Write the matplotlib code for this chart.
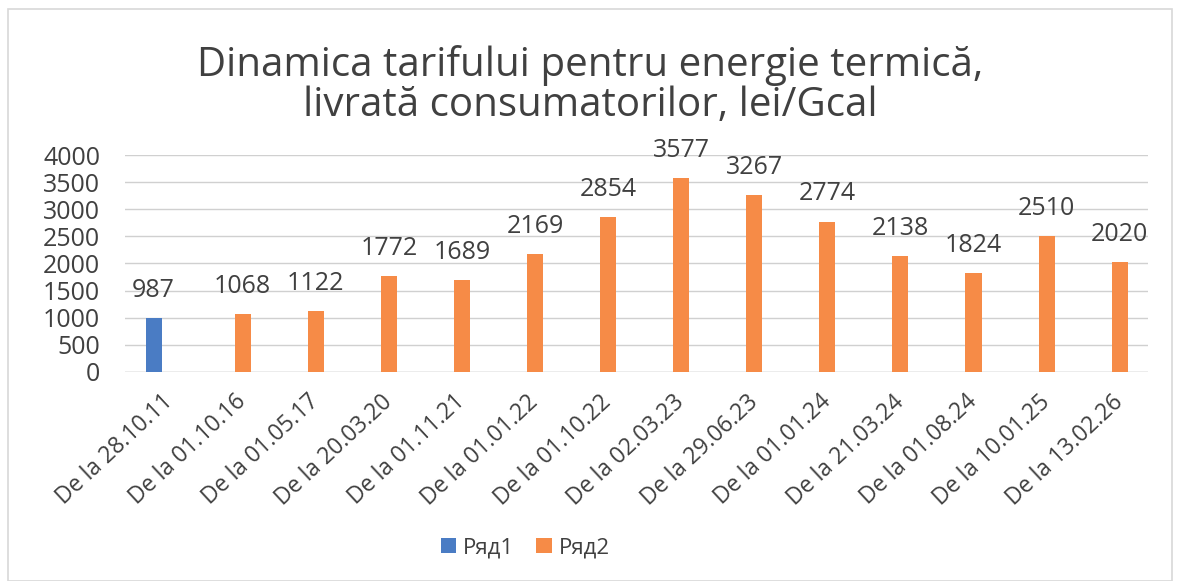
import numpy as np
import matplotlib.pyplot as plt
from matplotlib.patches import Rectangle

dates = ["28.10.11", "01.10.16", "01.05.17", "20.03.20", "01.11.21", "01.01.22",
         "01.10.22", "02.03.23", "29.06.23", "01.01.24", "21.03.24", "01.08.24",
         "10.01.25", "13.02.26"]
categories = ["De la " + d for d in dates]
ryad1 = [987] + [np.nan] * 13
ryad2 = [np.nan, 1068, 1122, 1772, 1689, 2169, 2854, 3577, 3267, 2774, 2138, 1824, 2510, 2020]
yticks = [0, 500, 1000, 1500, 2000, 2500, 3000, 3500, 4000]

FONT = ["Open Sans", "DejaVu Sans"]
TXT = "#404040"
plt.rcParams["font.family"] = FONT

fig = plt.figure(figsize=(11.8, 5.81), dpi=100)
ax = fig.add_axes([0.106, 0.36, 0.867, 0.373])

x = np.arange(len(categories))
w = 0.22
s1 = np.array(ryad1, dtype=float)
s2 = np.array(ryad2, dtype=float)
m1 = ~np.isnan(s1)
m2 = ~np.isnan(s2)
b1 = ax.bar(x[m1] - w / 2, s1[m1], w, color="#4A7CC4", label="Ряд1", zorder=3)
b2 = ax.bar(x[m2] + w / 2, s2[m2], w, color="#F68B47", label="Ряд2", zorder=3)
for bars, vals in ((b1, s1[m1]), (b2, s2[m2])):
    ax.bar_label(bars, labels=[f"{v:.0f}" for v in vals], padding=11,
                 fontsize=18, color=TXT)

ax.set_xlim(-0.5, len(categories) - 0.5)
ax.set_ylim(0, 4000)
ax.set_yticks(yticks)
ax.set_xticks(x)
ax.set_xticklabels(categories, rotation=43, ha="right", rotation_mode="anchor",
                   fontsize=16.5, color=TXT)
ax.tick_params(axis="y", labelsize=18, labelcolor=TXT, length=0, pad=18)
ax.tick_params(axis="x", length=0, pad=13)
ax.grid(axis="y", color="#d0d0d0", linewidth=1, zorder=0)
for sp in ax.spines.values():
    sp.set_visible(False)
ax.axhline(0, color="#c8c8c8", linewidth=1, zorder=2)

fig.text(0.5, 0.888, "Dinamica tarifului pentru energie termică,", ha="center",
         va="center", fontsize=29, color=TXT)
fig.text(0.5, 0.818, "livrată consumatorilor, lei/Gcal", ha="center",
         va="center", fontsize=29, color=TXT)

fig.legend(handles=[b1, b2], loc="center", bbox_to_anchor=(0.445, 0.057), ncol=2,
           frameon=False, fontsize=16, handlelength=0.7, handleheight=0.7,
           handletextpad=0.3, columnspacing=1.0, labelcolor=TXT)

fig.patches.append(Rectangle((0.007, 0.0), 0.986, 0.985, transform=fig.transFigure,
                             fill=False, edgecolor="#d8d8d8", linewidth=1.2))

fig.savefig("out.png", dpi=100)
